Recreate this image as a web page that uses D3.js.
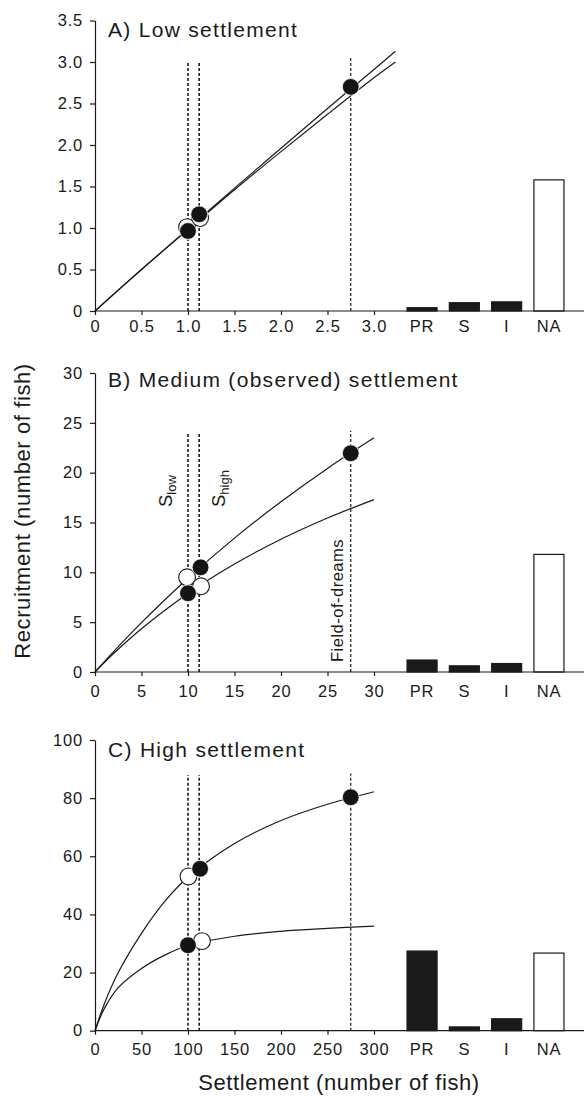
<!DOCTYPE html>
<html><head><meta charset="utf-8">
<script src="https://cdn.jsdelivr.net/npm/d3@7"></script>
<style>
body{margin:0;background:#fff}
svg{display:block;background:#fff}
text{font-family:"Liberation Sans",Arial,Helvetica,sans-serif;fill:#1a1a1a}
</style>
</head><body>
<svg id="chart" width="584" height="1098"></svg>
<script>
// ---------- data ----------
const categories = ["PR", "S", "I", "NA"];
const barsA = [0.04, 0.10, 0.11, 1.58];
const barsB = [1.2, 0.62, 0.85, 11.8];
const barsC = [27.4, 1.3, 4.1, 26.7];

const xTicksA = [0, 0.5, 1, 1.5, 2, 2.5, 3];
const yTicksA = [0, 0.5, 1, 1.5, 2, 2.5, 3, 3.5];
const xTicksB = [0, 5, 10, 15, 20, 25, 30];
const yTicksB = [0, 5, 10, 15, 20, 25, 30];
const xTicksC = [0, 50, 100, 150, 200, 250, 300];
const yTicksC = [0, 20, 40, 60, 80, 100];

// fitted curves
const curveSettleA = [0, 0.5, 1, 1.5, 2, 2.5, 3, 3.23];
const curveUpperA  = [0, 0.50, 0.99, 1.48, 1.96, 2.44, 2.91, 3.13];
const curveLowerA  = [0, 0.50, 0.98, 1.46, 1.92, 2.37, 2.81, 3.00];
const curveSettleB = [0, 2, 5, 10, 15, 20, 25, 30];
const curveUpperB  = [0, 2.04, 4.95, 9.40, 13.43, 17.09, 20.43, 23.50];
const curveLowerB  = [0, 1.85, 4.34, 7.88, 10.83, 13.32, 15.45, 17.30];
const curveSettleC = [0, 10, 25, 50, 75, 100, 150, 200, 250, 300];
const curveUpperC  = [0, 9.2, 20.0, 33.5, 44.5, 52.8, 64.4, 72.3, 77.9, 82.2];
const curveLowerC  = [0, 7.6, 14.8, 21.4, 26.0, 29.3, 32.5, 34.2, 35.2, 36.0];

// reference settlement levels (S low, S high, field-of-dreams)
const refSettleA = [1.0, 1.12, 2.75];
const refTopA    = [3.0, 3.0, 3.05];
const refSettleB = [10, 11.2, 27.5];
const refTopB    = [24, 24, 24.2];
const refSettleC = [100, 112, 275];
const refTopC    = [88, 88, 88.5];

// points: filled and open
const filledXA = [1.0, 1.12, 2.75];
const filledYA = [0.964, 1.165, 2.70];
const openXA   = [0.99, 1.13];
const openYA   = [1.01, 1.12];
const filledXB = [10.0, 11.35, 27.5];
const filledYB = [7.9, 10.5, 21.95];
const openXB   = [9.9, 11.4];
const openYB   = [9.5, 8.6];
const filledXC = [100, 113, 275];
const filledYC = [29.4, 55.7, 80.3];
const openXC   = [100.5, 115];
const openYC   = [53.1, 30.8];

const titles = ["A) Low settlement", "B) Medium (observed) settlement", "C) High settlement"];

// ---------- layout ----------
const svg = d3.select("#chart");
const X0 = 95, X1 = 374, XEND = 584;

const panels = [
  {title: titles[0], xMax: 3, yMax: 3.5, xt: xTicksA, yt: yTicksA, fmt: v => v === 0 ? "0" : v.toFixed(1),
   yb: 311, yt0: 20.5, cs: curveSettleA, cu: curveUpperA, cl: curveLowerA, rs: refSettleA, rt: refTopA,
   fx: filledXA, fy: filledYA, ox: openXA, oy: openYA, bars: barsA, ty: 37, pad: 5},
  {title: titles[1], xMax: 30, yMax: 30, xt: xTicksB, yt: yTicksB, fmt: d3.format("d"),
   yb: 672, yt0: 373, cs: curveSettleB, cu: curveUpperB, cl: curveLowerB, rs: refSettleB, rt: refTopB,
   fx: filledXB, fy: filledYB, ox: openXB, oy: openYB, bars: barsB, ty: 387, pad: 9},
  {title: titles[2], xMax: 300, yMax: 100, xt: xTicksC, yt: yTicksC, fmt: d3.format("d"),
   yb: 1030.7, yt0: 740, cs: curveSettleC, cu: curveUpperC, cl: curveLowerC, rs: refSettleC, rt: refTopC,
   fx: filledXC, fy: filledYC, ox: openXC, oy: openYC, bars: barsC, ty: 757, pad: 9}
];

const band = d3.scaleBand().domain(categories).range([400.7, 570.3]).paddingInner(0.29).paddingOuter(0.15);

panels.forEach((p, i) => {
  const g = svg.append("g");
  const x = d3.scaleLinear().domain([0, p.xMax]).range([X0, X1]);
  const y = d3.scaleLinear().domain([0, p.yMax]).range([p.yb, p.yt0]);

  // bars
  g.selectAll("rect.bar").data(categories).enter().append("rect")
    .attr("x", d => band(d)).attr("width", band.bandwidth())
    .attr("y", (d, k) => y(p.bars[k])).attr("height", (d, k) => y(0) - y(p.bars[k]))
    .attr("fill", d => d === "NA" ? "#fff" : "#1a1a1a")
    .attr("stroke", "#1a1a1a").attr("stroke-width", 1.2);

  // x axis
  const xa = g.append("g").attr("transform", `translate(0,${p.yb})`)
    .call(d3.axisBottom(x).tickValues(p.xt).tickFormat(p.fmt).tickSize(4).tickPadding(p.pad).tickSizeOuter(0));
  xa.select(".domain").remove();
  g.append("line").attr("x1", X0).attr("x2", XEND).attr("y1", p.yb).attr("y2", p.yb)
    .attr("stroke", "#1a1a1a").attr("stroke-width", 1.2);
  // category labels
  g.selectAll("text.cat").data(categories).enter().append("text")
    .attr("class", "cat")
    .attr("x", d => band(d) + band.bandwidth() / 2)
    .attr("y", p.yb + 4 + p.pad).attr("dy", "0.71em")
    .attr("text-anchor", "middle").style("font-size", "16.5px").style("letter-spacing", "0.8px")
    .text(d => d);

  // y axis
  const ya = g.append("g").attr("transform", `translate(${X0},0)`)
    .call(d3.axisLeft(y).tickValues(p.yt).tickFormat(p.fmt).tickSize(5).tickPadding(7).tickSizeOuter(0));

  [xa, ya].forEach(a => {
    a.attr("font-family", null).attr("font-size", null);
    a.selectAll("text").style("font-size", "16.5px").style("letter-spacing", "0.8px").attr("fill", "#1a1a1a");
    a.selectAll("line,path").attr("stroke", "#1a1a1a").attr("stroke-width", 1.2);
  });

  // dashed reference lines
  g.selectAll("line.ref").data(p.rs).enter().append("line")
    .attr("x1", d => x(d)).attr("x2", d => x(d))
    .attr("y1", y(0)).attr("y2", (d, k) => y(p.rt[k]))
    .attr("stroke", "#1a1a1a").attr("stroke-width", (d, k) => k < 2 ? 1.6 : 1.2)
    .attr("stroke-dasharray", "3,2");

  // curves
  const line = d3.line().x(d => x(d[0])).y(d => y(d[1])).curve(d3.curveCatmullRom.alpha(0.5));
  [p.cu, p.cl].forEach(vals => {
    g.append("path").datum(p.cs.map((s, k) => [s, vals[k]]))
      .attr("d", line).attr("fill", "none").attr("stroke", "#1a1a1a").attr("stroke-width", 1.2);
  });

  // open then filled circles
  g.selectAll("circle.open").data(p.ox).enter().append("circle")
    .attr("cx", d => x(d)).attr("cy", (d, k) => y(p.oy[k])).attr("r", 8.4)
    .attr("fill", "#fff").attr("stroke", "#1a1a1a").attr("stroke-width", 1.1);
  g.selectAll("circle.filled").data(p.fx).enter().append("circle")
    .attr("cx", d => x(d)).attr("cy", (d, k) => y(p.fy[k])).attr("r", 8.4)
    .attr("fill", "#141414").attr("stroke", "#fff").attr("stroke-width", 0.8);

  // title
  g.append("text").attr("x", 108).attr("y", p.ty).style("font-size", "21px").style("letter-spacing", "1.3px")
    .text(p.title);

  if (i === 1) {
    const lab = (xp, main, sub) => {
      const t = g.append("text").attr("transform", `translate(${xp},507) rotate(-90)`).style("font-size", "18.5px");
      t.append("tspan").text(main);
      t.append("tspan").attr("dy", 4).style("font-size", "13px").text(sub);
    };
    lab(172, "S", "low");
    lab(225, "S", "high");
    g.append("text").attr("transform", `translate(343,662) rotate(-90)`)
      .style("font-size", "16.5px").style("letter-spacing", "0.5px").text("Field-of-dreams");
  }
});

// axis titles
svg.append("text").attr("transform", "translate(30,511) rotate(-90)").attr("text-anchor", "middle")
  .style("font-size", "22px").style("letter-spacing", "0.6px").text("Recruitment (number of fish)");
svg.append("text").attr("x", 339).attr("y", 1090).attr("text-anchor", "middle")
  .style("font-size", "22px").style("letter-spacing", "0.6px").text("Settlement (number of fish)");
</script>
</body></html>
